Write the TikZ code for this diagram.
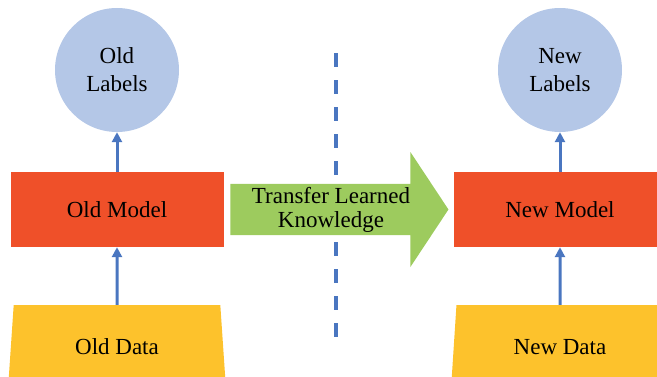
\documentclass[tikz,border=0pt]{standalone}
\usepackage{fontspec}
\setmainfont{Liberation Serif}
\usepackage{tikz}
\usetikzlibrary{shapes.geometric,shapes.arrows,arrows.meta}
\definecolor{labelblue}{HTML}{B4C7E7}
\definecolor{modelred}{HTML}{EF5029}
\definecolor{datagold}{HTML}{FDC22C}
\definecolor{transgreen}{HTML}{9DCB5E}
\definecolor{linkblue}{HTML}{4A76C0}
\tikzstyle{labels} = [circle, fill=labelblue, minimum size=124pt, inner sep=0pt,
    align=center, font=\fontsize{23}{28}\selectfont]
\tikzstyle{model} = [rectangle, fill=modelred, minimum width=213pt, minimum height=75pt,
    font=\fontsize{23}{28}\selectfont]
\tikzstyle{data} = [trapezium, fill=datagold, trapezium left angle=76, trapezium right angle=76,
    trapezium stretches body, minimum width=218pt, minimum height=84pt,
    font=\fontsize{23}{28}\selectfont]
\tikzstyle{transfer} = [single arrow, fill=transgreen, single arrow head indent=0pt,
    single arrow head extend=28.5pt, single arrow tip angle=113,
    minimum height=218pt, minimum width=115pt,
    inner xsep=2pt, inner ysep=0pt, align=center, font=\fontsize{23}{24}\selectfont]
\tikzstyle{line} = [draw=linkblue, line width=3pt, -{Triangle[length=10pt,width=10pt]}]

\begin{document}
\begin{tikzpicture}[x=1pt, y=1pt]
    \useasboundingbox (0,0) rectangle (657,376);
    \clip (0,0) rectangle (657,376);
    % Place nodes
    \node [labels] (oldlab) at (117,306) {Old\\Labels};
    \node [model, below of=oldlab, node distance=139.5pt] (oldmodel) {Old Model};
    \node [data, below of=oldmodel, node distance=137.5pt] (olddata) {Old Data};
    \node [model, right of=oldmodel, node distance=443pt] (newmodel) {New Model};
    \node [labels, above of=newmodel, node distance=139.5pt] (newlab) {New\\Labels};
    \node [data, below of=newmodel, node distance=137.5pt] (newdata) {New Data};

    % Dividing line
    \coordinate (divtop) at (335.5,323);
    \coordinate (divbot) at (335.5,26);
    \draw [linkblue, line width=4pt, dash pattern=on 14pt off 13pt] (divtop) -- (divbot);

    \node [transfer, right of=oldmodel, node distance=214pt] (transfer) {Transfer Learned\\Knowledge};

    % Draw edges
    \path [line] (oldmodel) -- (oldlab);
    \path [line] (olddata) -- (oldmodel);
    \path [line] (newmodel) -- (newlab);
    \path [line] (newdata) -- (newmodel);
\end{tikzpicture}
\end{document}
